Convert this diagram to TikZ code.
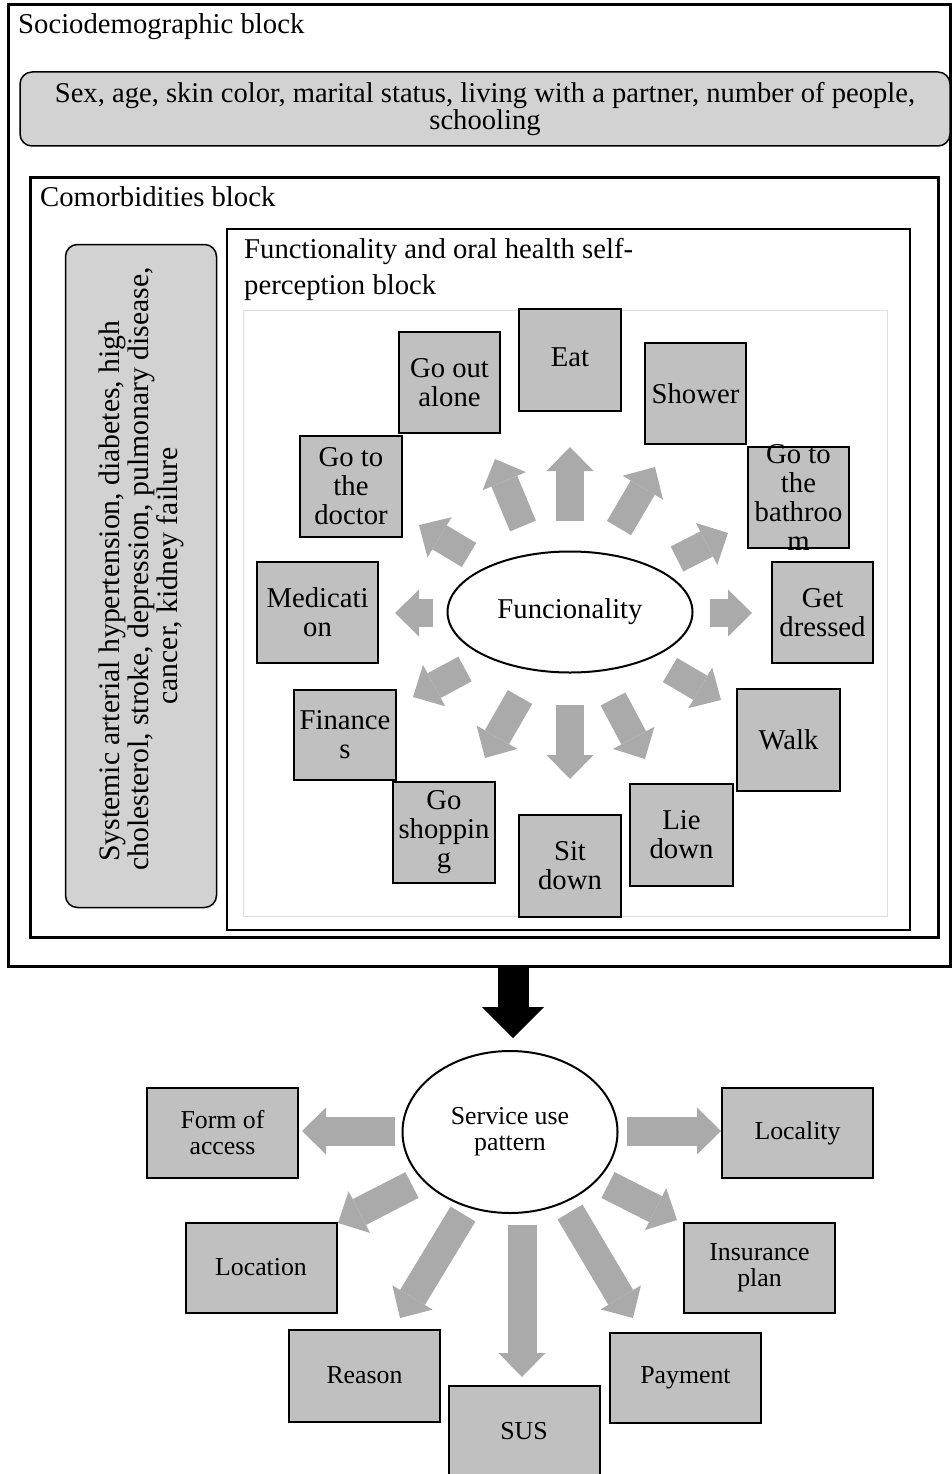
\documentclass[tikz,border=0pt]{standalone}
\usepackage{fontspec}
\setmainfont{Liberation Serif}
\usetikzlibrary{arrows.meta,shapes.geometric,calc}
\definecolor{boxg}{HTML}{C0C0C0}
\definecolor{arrg}{HTML}{AAAAAA}
\definecolor{rndg}{HTML}{D2D2D2}
\definecolor{frameg}{HTML}{DDDDDD}
\newcommand\fbig{\fontsize{28.7pt}{29pt}\selectfont}
\newcommand\fttl{\fontsize{28.7pt}{36pt}\selectfont}
\newcommand\fsoc{\fontsize{28.6pt}{27pt}\selectfont}
\newcommand\fcom{\fontsize{29.7pt}{29pt}\selectfont}
\newcommand\fsmall{\fontsize{25.8pt}{26pt}\selectfont}
\begin{document}
\begin{tikzpicture}[x=1pt,y=-1pt,
  fbox/.style={draw, line width=2pt, fill=boxg, inner sep=0pt, align=center, font=\fbig},
  bbox/.style={draw, line width=2pt, fill=boxg, inner sep=0pt, align=center, font=\fsmall, minimum width=151, minimum height=90},
  rbox/.style={draw, line width=1.5pt, fill=rndg, rounded corners=12pt, inner sep=0pt, align=center},
  ttl/.style={inner sep=0pt, anchor=base west, font=\fttl},
  garr/.style={color=arrg, line width=28pt, -{Triangle[width=47pt,length=24pt,line width=0pt]}},
  garrb/.style={color=arrg, line width=29pt, -{Triangle[width=47pt,length=24pt,line width=0pt]}},
  karr/.style={color=black, line width=31pt, -{Triangle[width=62pt,length=31pt,line width=0pt]}},
  ell/.style={draw, ellipse, line width=2pt, fill=white, inner sep=0pt, align=center}
]
\useasboundingbox (0,0) rectangle (952,1474);

% ---------- frames ----------
\draw[line width=3pt] (8,5) rectangle (950,966);
\draw[line width=3pt] (30,178) rectangle (938,937);
\draw[line width=2pt] (227,229) rectangle (910,930);
\draw[frameg, line width=1pt] (243,310) rectangle (887,916);

% ---------- titles ----------
\node[ttl] (tsoc) at (18,34) {Sociodemographic block};
\node[ttl] (tcom) at (40,207) {Comorbidities block};
\node[ttl] (tfun1) at (244,258) {Functionality and oral health self-};
\node[ttl] (tfun2) at (244,294) {perception block};

% ---------- rounded boxes ----------
\node[rbox, font=\fsoc, minimum width=930, minimum height=74] (socio) at (485,109)
  {Sex, age, skin color, marital status, living with a partner, number of people,\\schooling};
\node[rbox, font=\fcom, rotate=90, minimum width=663, minimum height=151] (comorb) at (141,576)
  {Systemic arterial hypertension, diabetes, high\hspace*{30pt}\\\hspace*{14pt}cholesterol, stroke, depression, pulmonary disease,\\cancer, kidney failure};

% ---------- functionality ----------
\node[ell, font=\fbig, minimum width=245, minimum height=121] (fun) at (570,612) {Funcionality};

\node[fbox, minimum width=102, minimum height=102] (eat) at (570,360) {};
\node[inner sep=0pt, font=\fbig] (eattxt) at (570,357) {Eat};
\node[fbox, minimum width=101, minimum height=101] (goout) at (449.5,382.5) {Go out\\alone};
\node[fbox, minimum width=101, minimum height=101] (shower) at (695.5,393.5) {Shower};
\node[fbox, minimum width=102, minimum height=101] (doctor) at (351,486.5) {Go to\\the\\doctor};
\node[fbox, minimum width=101, minimum height=101] (bath) at (798.5,497.5) {};
\node[inner sep=0pt, align=center, font=\fbig] (bathtxt) at (bath.center) {Go to\\the\\bathroo\\m};
\node[fbox, minimum width=121, minimum height=101] (medic) at (317.5,612.5) {Medicati\\on};
\node[fbox, minimum width=101, minimum height=101] (dressed) at (822.5,612.5) {Get\\dressed};
\node[fbox, minimum width=102, minimum height=90] (finance) at (345,735) {Finance\\s};
\node[fbox, minimum width=103, minimum height=102] (walk) at (788.5,740) {Walk};
\node[fbox, minimum width=102, minimum height=101] (shop) at (444,832.5) {Go\\shoppin\\g};
\node[fbox, minimum width=102, minimum height=102] (sit) at (570,866) {Sit\\down};
\node[fbox, minimum width=103, minimum height=102] (lie) at (681.5,835) {Lie\\down};

% arrows (tail, tip)
\coordinate (a1s) at (570,521);   \coordinate (a1e) at (570,447);
\coordinate (a2s) at (523,526);   \coordinate (a2e) at (495,459);
\coordinate (a3s) at (619,528);   \coordinate (a3e) at (655,467);
\coordinate (a4s) at (469,555);   \coordinate (a4e) at (419,525);
\coordinate (a5s) at (677,559);   \coordinate (a5e) at (728,533);
\coordinate (a6s) at (433,613);   \coordinate (a6e) at (395,613);
\coordinate (a7s) at (710,613);   \coordinate (a7e) at (752,613);
\coordinate (a8s) at (465,669);   \coordinate (a8e) at (413,697);
\coordinate (a9s) at (670,670);   \coordinate (a9e) at (721,700);
\coordinate (a10s) at (520,697);  \coordinate (a10e) at (485,758);
\coordinate (a11s) at (570,705);  \coordinate (a11e) at (570,779);
\coordinate (a12s) at (613,699);  \coordinate (a12e) at (645,759);
\foreach \i in {1,...,12} { \draw[garr] (a\i s) -- (a\i e); }

% ---------- black arrow ----------
\coordinate (k1) at (513,967);
\coordinate (k2) at (513,1038);
\draw[karr] (k1) -- (k2);

% ---------- service use pattern ----------
\node[ell, font=\fsmall, minimum width=215, minimum height=162] (svc) at (510,1132) {Service use\\pattern};

\node[bbox] (form) at (222.5,1133) {Form of\\access};
\node[bbox] (loc) at (797.5,1133) {Locality};
\node[bbox] (location) at (261,1267.5) {Location};
\node[bbox] (ins) at (759.5,1267.5) {Insurance\\plan};
\node[bbox, minimum height=92] (reason) at (364.5,1375.5) {Reason};
\node[bbox] (pay) at (685.5,1378) {Payment};
\node[bbox] (sus) at (524,1431) {SUS};

\coordinate (b1s) at (395,1131);  \coordinate (b1e) at (302,1131);
\coordinate (b2s) at (627,1131);  \coordinate (b2e) at (721,1131);
\coordinate (b3s) at (412,1185);  \coordinate (b3e) at (338,1223);
\coordinate (b4s) at (608,1185);  \coordinate (b4e) at (677,1220);
\coordinate (b5s) at (463,1214);  \coordinate (b5e) at (400,1318);
\coordinate (b6s) at (570,1212);  \coordinate (b6e) at (633,1318);
\coordinate (b7s) at (522,1225);  \coordinate (b7e) at (522,1377);
\foreach \i in {1,...,7} { \draw[garrb] (b\i s) -- (b\i e); }
\end{tikzpicture}
\end{document}
